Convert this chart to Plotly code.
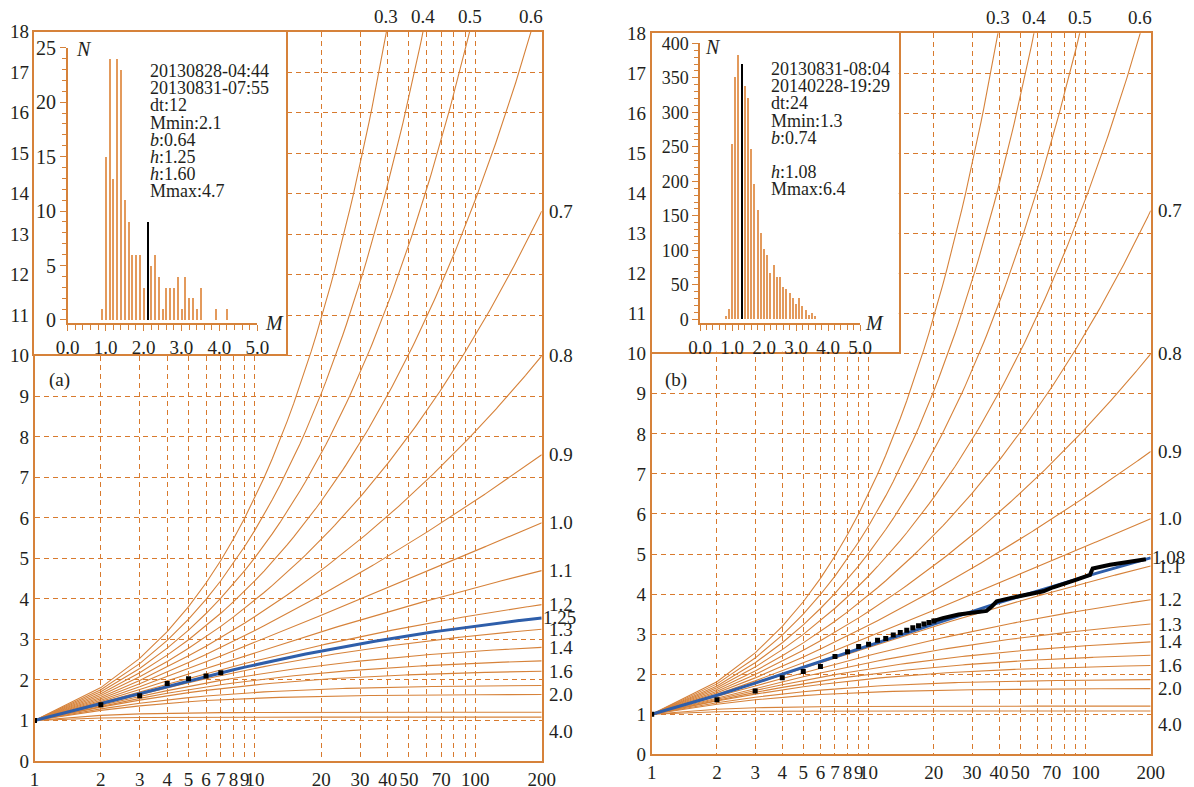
import numpy as np
import plotly.graph_objects as go

# ---------------- data ----------------
h_curves = [0.3, 0.4, 0.5, 0.6, 0.7, 0.8, 0.9, 1.0, 1.1, 1.2, 1.3, 1.4, 1.5, 1.6, 1.8, 2.0, 3.0, 4.0]
h_right_labels = ["0.7", "0.8", "0.9", "1.0", "1.1", "1.2", "1.3", "1.4", "1.6", "2.0", "4.0"]
h_top_labels = ["0.3", "0.4", "0.5", "0.6"]
n_max = 200

x_tickvals = [1, 2, 3, 4, 5, 6, 7, 8, 9, 10, 20, 30, 40, 50, 60, 70, 80, 90, 100, 200]
x_ticktext = ["1", "2", "3", "4", "5", "6", "7", "8", "9", "10", "20", "30", "40", "50", "", "70", "", "", "100", "200"]
y_tickvals = list(range(0, 19))

# panel (a)
h_fit_a = 1.25
n_obs_a = [1, 2, 3, 4, 5, 6, 7]
s_obs_a = [1.00, 1.39, 1.61, 1.91, 2.03, 2.10, 2.18]
hist_m_a = [0.9, 1.0, 1.1, 1.2, 1.3, 1.4, 1.5, 1.6, 1.7, 1.8, 1.9, 2.0, 2.2, 2.3, 2.4, 2.5,
            2.6, 2.7, 2.8, 2.9, 3.0, 3.1, 3.2, 3.3, 3.4, 3.5, 3.9, 4.2]
hist_n_a = [1, 15, 24, 13, 24, 23, 11, 9, 6, 6, 6, 3, 5, 6, 4, 1,
            3, 3, 3, 4, 1, 4, 2, 2, 1, 3, 1, 1]
mmin_a, mmin_bar_a = 2.1, 9
info_a = ["20130828-04:44", "20130831-07:55", "dt:12", "Mmin:2.1", "<i>b</i>:0.64",
          "<i>h</i>:1.25", "<i>h</i>:1.60", "Mmax:4.7"]

# panel (b)
h_fit_b = 1.08
n_dots_b = [1, 2, 3, 4, 5, 6, 7, 8, 9, 10, 11, 12, 13, 14, 15, 16, 17, 18, 19, 20]
s_dots_b = [1.00, 1.36, 1.58, 1.91, 2.07, 2.19, 2.44, 2.56, 2.69, 2.75, 2.85, 2.89, 2.98, 3.04,
            3.10, 3.16, 3.21, 3.25, 3.29, 3.33]
n_line_b = [20, 22, 26, 31, 35, 37, 39, 45, 53, 64, 71, 82, 91, 105, 108, 130, 155, 184, 190]
s_line_b = [3.33, 3.40, 3.49, 3.53, 3.58, 3.69, 3.82, 3.90, 3.98, 4.07, 4.17, 4.27, 4.36, 4.48,
            4.64, 4.73, 4.79, 4.85, 4.87]
hist_m_b = [0.8, 0.9, 1.0, 1.1, 1.2, 1.4, 1.5, 1.6, 1.7, 1.8, 1.9, 2.0, 2.1, 2.2, 2.3, 2.4,
            2.5, 2.6, 2.7, 2.8, 2.9, 3.0, 3.1, 3.2, 3.3, 3.4, 3.5, 3.6]
hist_n_b = [4, 15, 253, 351, 383, 338, 321, 247, 195, 158, 125, 101, 93, 66, 78, 61,
            61, 46, 43, 38, 30, 22, 30, 19, 13, 6, 8, 4]
mmin_b, mmin_bar_b = 1.3, 370
info_b = ["20130831-08:04", "20140228-19:29", "dt:24", "Mmin:1.3", "<i>b</i>:0.74",
          "", "<i>h</i>:1.08", "Mmax:6.4"]

# ---------------- styles ----------------
ORANGE = "#D6823A"
GRID = "#D87A2E"
BAR = "#E39A5C"
BLUE = "#2E5EAA"
TXT = "#231F20"
SERIF = "Liberation Serif"
OFF = 8                      # page body margin
W, H = 1194 - OFF, 787 - OFF


def px2x(p):
    return (p - OFF) / W


def px2y(p):
    return 1 - (p - OFF) / H


n = np.arange(1, n_max + 1)


def partial_sums(h):
    return np.cumsum(n.astype(float) ** (-h))


fig = go.Figure()

panels = [
    dict(xa="x", ya="y", dom_x=[34.5, 541.7], dom_y=[761, 31.7], h_fit=h_fit_a,
         ins_x=[34, 286], ins_y=[354, 32], hx=[67.7, 257.3], hy=[323, 47.7], hyr=[-0.28, 25],
         hdt=5, hminor=1, hyfont=20, hist_m=hist_m_a, hist_n=hist_n_a, mmin=mmin_a,
         mbar=mmin_bar_a, info=info_a, info_x=147.7, info_y0=71, N_pos=(74, 49),
         M_pos=(263, 323), label="(a)", label_pos=(47, 380)),
    dict(xa="x2", ya="y2", dom_x=[651.7, 1150.7], dom_y=[754.3, 33.3], h_fit=h_fit_b,
         ins_x=[651.7, 898.7], ins_y=[351.7, 33], hx=[700, 860], hy=[323.3, 43.3], hyr=[-5.8, 400],
         hdt=50, hminor=10, hyfont=18, hist_m=hist_m_b, hist_n=hist_n_b, mmin=mmin_b,
         mbar=mmin_bar_b, info=info_b, info_x=769, info_y0=69, N_pos=(703, 47),
         M_pos=(863, 323), label="(b)", label_pos=(663, 380)),
]

annotations = []
layout_axes = {}

for i, p in enumerate(panels):
    xa, ya = p["xa"], p["ya"]
    # family of curves
    for h in h_curves:
        fig.add_trace(go.Scatter(x=n, y=partial_sums(h), mode="lines", xaxis=xa, yaxis=ya,
                                 line=dict(color=ORANGE, width=1.1), showlegend=False,
                                 hoverinfo="skip"))
    # fit curve
    s_fit = partial_sums(p["h_fit"])
    fig.add_trace(go.Scatter(x=n, y=s_fit, mode="lines", xaxis=xa, yaxis=ya,
                             line=dict(color=BLUE, width=3), showlegend=False))
    # observations
    if i == 0:
        fig.add_trace(go.Scatter(x=n_obs_a, y=s_obs_a, mode="markers", xaxis=xa, yaxis=ya,
                                 marker=dict(color="black", size=5, symbol="square"),
                                 showlegend=False))
    else:
        fig.add_trace(go.Scatter(x=n_line_b, y=s_line_b, mode="lines", xaxis=xa, yaxis=ya,
                                 line=dict(color="black", width=4), showlegend=False))
        fig.add_trace(go.Scatter(x=n_dots_b, y=s_dots_b, mode="markers", xaxis=xa, yaxis=ya,
                                 marker=dict(color="black", size=5, symbol="square"),
                                 showlegend=False))

    # main axes
    xkey = "xaxis" if i == 0 else "xaxis2"
    ykey = "yaxis" if i == 0 else "yaxis2"
    layout_axes[xkey] = dict(
        domain=[px2x(p["dom_x"][0]), px2x(p["dom_x"][1])], type="log",
        range=[0, np.log10(n_max)], tickmode="array", tickvals=x_tickvals, ticktext=x_ticktext,
        tickangle=0,
        showgrid=True, gridcolor=GRID, griddash="5px,4px", gridwidth=1.3,
        showline=True, linecolor=ORANGE, linewidth=1.6, mirror=True, ticks="",
        tickfont=dict(family=SERIF, size=19, color=TXT), anchor=ya, zeroline=False)
    layout_axes[ykey] = dict(
        domain=[px2y(p["dom_y"][0]), px2y(p["dom_y"][1])], range=[0, 18],
        tickmode="array", tickvals=y_tickvals,
        showgrid=True, gridcolor=GRID, griddash="5px,4px", gridwidth=1.3,
        showline=True, linecolor=ORANGE, linewidth=1.6, mirror=True, ticks="",
        tickfont=dict(family=SERIF, size=19, color=TXT), anchor=xa, zeroline=False)

    # right labels
    xdom = xa + " domain"
    for lab in h_right_labels:
        hv = float(lab)
        yv = partial_sums(hv)[-1]
        annotations.append(dict(x=1, xref=xdom, y=yv, yref=ya, text=lab, showarrow=False,
                                xanchor="left", xshift=5, yshift=(-14 if lab == "4.0" else 0),
                                font=dict(family=SERIF, size=19, color=TXT)))
    annotations.append(dict(x=1, xref=xdom, y=s_fit[-1], yref=ya, text=f"{p['h_fit']:.2f}",
                            showarrow=False, xanchor="left", xshift=-1,
                            font=dict(family=SERIF, size=19, color=TXT)))
    # top labels
    for lab in h_top_labels:
        s = partial_sums(float(lab))
        k = int(np.argmax(s >= 18))
        frac = (18 - s[k - 1]) / (s[k] - s[k - 1])
        lx = np.log10(n[k - 1]) + frac * (np.log10(n[k]) - np.log10(n[k - 1]))
        annotations.append(dict(x=lx, xref=xa, y=18, yref=ya, text=lab, showarrow=False,
                                yanchor="bottom", yshift=3,
                                font=dict(family=SERIF, size=19, color=TXT)))
    # panel label
    annotations.append(dict(x=px2x(p["label_pos"][0]), y=px2y(p["label_pos"][1]), xref="paper",
                            yref="paper", text=p["label"], showarrow=False, xanchor="left",
                            yanchor="middle", font=dict(family=SERIF, size=19, color=TXT)))

    # inset frame (dummy subplot)
    bx = "x%d" % (3 + i)
    by = "y%d" % (3 + i)
    fig.add_trace(go.Scatter(x=[0.5], y=[0.5], mode="markers", xaxis=bx, yaxis=by,
                             marker=dict(opacity=0), showlegend=False, hoverinfo="skip"))
    layout_axes["xaxis%d" % (3 + i)] = dict(
        domain=[px2x(p["ins_x"][0]), px2x(p["ins_x"][1])], range=[0, 1], showgrid=False,
        showticklabels=False, ticks="", showline=True, linecolor=ORANGE, linewidth=1.6,
        mirror=True, zeroline=False, anchor=by)
    layout_axes["yaxis%d" % (3 + i)] = dict(
        domain=[px2y(p["ins_y"][0]), px2y(p["ins_y"][1])], range=[0, 1], showgrid=False,
        showticklabels=False, ticks="", showline=True, linecolor=ORANGE, linewidth=1.6,
        mirror=True, zeroline=False, anchor=bx)

    # histogram
    hxa = "x%d" % (5 + i)
    hya = "y%d" % (5 + i)
    fig.add_trace(go.Bar(x=p["hist_m"], y=p["hist_n"], width=0.035, xaxis=hxa, yaxis=hya,
                         marker=dict(color=BAR, line=dict(width=0)), showlegend=False))
    fig.add_trace(go.Bar(x=[p["mmin"]], y=[p["mbar"]], width=0.03, xaxis=hxa, yaxis=hya,
                         marker=dict(color="black", line=dict(width=0)), showlegend=False))
    layout_axes["xaxis%d" % (5 + i)] = dict(
        domain=[px2x(p["hx"][0]), px2x(p["hx"][1])], range=[0, 5], tick0=0, dtick=1,
        tickformat=".1f", ticks="outside", ticklen=6, tickcolor=ORANGE, tickwidth=1.3,
        tickangle=0,
        minor=dict(dtick=0.2, tick0=0, ticks="outside", ticklen=5, tickcolor=ORANGE,
                   tickwidth=1.3, showgrid=False),
        showgrid=False, showline=True, linecolor=ORANGE, linewidth=1.5, zeroline=False,
        tickfont=dict(family=SERIF, size=19, color=TXT), anchor=hya)
    layout_axes["yaxis%d" % (5 + i)] = dict(
        domain=[px2y(p["hy"][0]), px2y(p["hy"][1])], range=p["hyr"], tick0=0, dtick=p["hdt"],
        ticks="outside", ticklen=6, tickcolor=ORANGE, tickwidth=1.3,
        minor=dict(dtick=p["hminor"], tick0=0, ticks="outside", ticklen=4, tickcolor=ORANGE,
                   tickwidth=1.3, showgrid=False),
        showgrid=False, showline=True, linecolor=ORANGE, linewidth=1.5, zeroline=False,
        tickfont=dict(family=SERIF, size=p["hyfont"], color=TXT), anchor=hxa)

    # inset text
    for j, line in enumerate(p["info"]):
        if not line:
            continue
        annotations.append(dict(x=px2x(p["info_x"]), y=px2y(p["info_y0"] + j * 17.2),
                                xref="paper", yref="paper", text=line, showarrow=False,
                                xanchor="left", yanchor="middle",
                                font=dict(family=SERIF, size=18, color=TXT)))
    annotations.append(dict(x=px2x(p["N_pos"][0]), y=px2y(p["N_pos"][1]), xref="paper",
                            yref="paper", text="<i>N</i>", showarrow=False, xanchor="left",
                            yanchor="middle", font=dict(family=SERIF, size=20, color=TXT)))
    annotations.append(dict(x=px2x(p["M_pos"][0]), y=px2y(p["M_pos"][1]), xref="paper",
                            yref="paper", text="<i>M</i>", showarrow=False, xanchor="left",
                            yanchor="middle", font=dict(family=SERIF, size=20, color=TXT)))

fig.update_layout(
    width=W, height=H, margin=dict(l=0, r=0, t=0, b=0),
    paper_bgcolor="white", plot_bgcolor="white", template="none",
    showlegend=False, bargap=0, barmode="overlay",
    annotations=annotations, **layout_axes)

fig.write_html("out.html")
